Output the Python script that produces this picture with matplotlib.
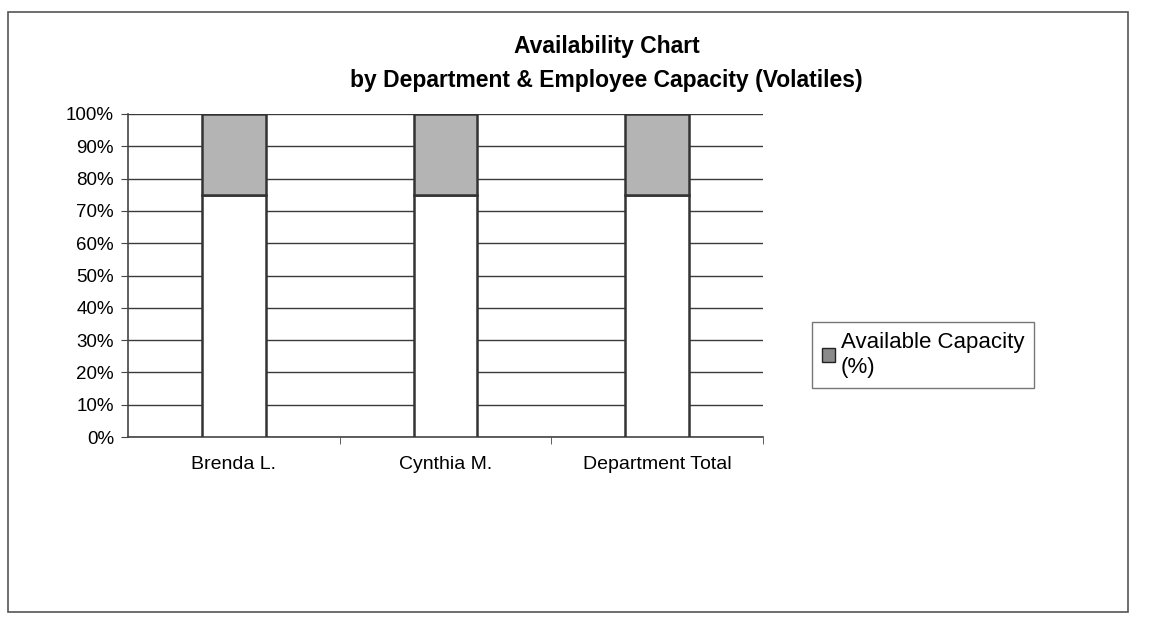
import matplotlib
matplotlib.use("Agg")
import matplotlib.pyplot as plt
from matplotlib.patches import Rectangle, Patch

categories = ["Brenda L.", "Cynthia M.", "Department Total"]
used_pct = [75, 75, 75]
available_pct = [25, 25, 25]
yticks = [0, 10, 20, 30, 40, 50, 60, 70, 80, 90, 100]
ytick_labels = [f"{v}%" for v in yticks]

plt.rcParams['font.family'] = ['Liberation Sans', 'DejaVu Sans']

fig = plt.figure(figsize=(11.51, 6.26), dpi=100)
fig.patch.set_facecolor("white")
fig.patches.append(Rectangle((8/1151, 1-612/626), (1128-8)/1151, (612-12)/626,
                             transform=fig.transFigure, fill=False,
                             edgecolor="#555555", linewidth=1.2))

ax = fig.add_axes([128/1151, 1-437/626, (763-128)/1151, (437-114)/626])
x = list(range(len(categories)))
ax.bar(x, used_pct, width=0.3, color="white", edgecolor="#333333", linewidth=1.8, zorder=3)
ax.bar(x, available_pct, bottom=used_pct, width=0.3, color="#b4b4b4",
       edgecolor="#333333", linewidth=1.8, zorder=3)

ax.set_xlim(-0.5, 2.5)
ax.set_ylim(0, 100)
ax.set_yticks(yticks)
ax.set_yticklabels(ytick_labels, fontsize=13.5)
ax.yaxis.grid(True, color="#3a3a3a", linewidth=1.0, zorder=0)
ax.set_axisbelow(True)
ax.set_xticks(x)
ax.set_xticklabels(categories, fontsize=14)
ax.tick_params(axis='x', length=0, pad=14)
ax.set_xticks([0.5, 1.5, 2.5], minor=True)
ax.tick_params(axis='x', which='minor', length=5, color="#444444")
ax.tick_params(axis='y', length=5, color="#444444", pad=5)
for s in ["top", "right"]:
    ax.spines[s].set_visible(False)
for s in ["left", "bottom"]:
    ax.spines[s].set_color("#444444")
    ax.spines[s].set_linewidth(1.2)

fig.text(0.527, 1-47/626, "Availability Chart", ha="center", va="center",
         fontsize=16.5, fontweight="bold")
fig.text(0.527, 1-80/626, "by Department & Employee Capacity (Volatiles)", ha="center",
         va="center", fontsize=16.5, fontweight="bold")

handle = Patch(facecolor="#8a8a8a", edgecolor="#222222", label="Available Capacity\n(%)")
leg = fig.legend(handles=[handle], loc="upper left",
                 bbox_to_anchor=(812/1151, 1-322/626), fontsize=16,
                 frameon=True, fancybox=False, edgecolor="#555555",
                 handlelength=0.6, handleheight=0.6, handletextpad=0.25,
                 borderpad=0.45, borderaxespad=0)
leg.get_frame().set_linewidth(1.0)
for t in leg.get_texts():
    t.set_linespacing(1.25)

fig.savefig("out.png", dpi=100, facecolor="white")
